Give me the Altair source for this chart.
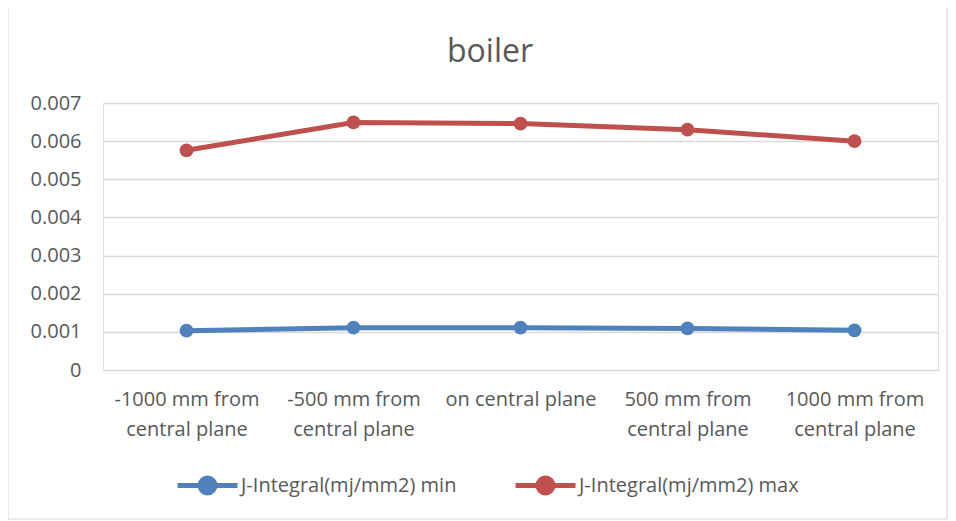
import altair as alt
import pandas as pd

categories = [
    "-1000 mm from central plane",
    "-500 mm from central plane",
    "on central plane",
    "500 mm from central plane",
    "1000 mm from central plane",
]
j_min = [0.00103, 0.00111, 0.00111, 0.00109, 0.00104]
j_max = [0.00576, 0.00649, 0.00646, 0.00630, 0.00600]
series_names = ["J-Integral(mj/mm2) min", "J-Integral(mj/mm2) max"]
y_ticks = [0, 0.001, 0.002, 0.003, 0.004, 0.005, 0.006, 0.007]
title_text = "boiler"

rows = []
for name, vals in zip(series_names, [j_min, j_max]):
    for c, v in zip(categories, vals):
        rows.append({"cat": c, "series": name, "value": v})
df = pd.DataFrame(rows)

FONT = "Open Sans"
TXT = "#595959"
colors = ["#4F81BD", "#C0504D"]
FS = 20

label_expr = (
    "indexof(datum.label,' from ')>0 ? "
    "[substring(datum.label,0,indexof(datum.label,' from ')+5), "
    "substring(datum.label,indexof(datum.label,' from ')+6)] : datum.label"
)

legend_path = "M-1,0L1,0M-0.25,0A0.25,0.25,0,1,0,0.25,0A0.25,0.25,0,1,0,-0.25,0Z"

base = alt.Chart(df).encode(
    x=alt.X(
        "cat:N",
        sort=categories,
        scale=alt.Scale(type="point", padding=0.5),
        axis=alt.Axis(
            title=None, labelAngle=0, labelExpr=label_expr, labelLineHeight=30,
            labelFontSize=FS, labelColor=TXT, labelFont=FONT, labelPadding=19,
            ticks=False, domain=False, grid=False, labelBaseline="top",
            labelLimit=300,
        ),
    ),
    y=alt.Y(
        "value:Q",
        scale=alt.Scale(domain=[0, 0.007], nice=False),
        axis=alt.Axis(
            title=None, values=y_ticks, format="~g", labelFontSize=FS,
            labelColor=TXT, labelFont=FONT, labelPadding=22, ticks=False,
            domain=False, gridColor="#D9D9D9", gridWidth=1.3,
        ),
    ),
    color=alt.Color(
        "series:N",
        sort=series_names,
        scale=alt.Scale(domain=series_names, range=colors),
        legend=alt.Legend(
            title=None, orient="none", direction="horizontal",
            legendX=72, legendY=350, symbolType=legend_path, symbolSize=3600,
            symbolStrokeWidth=5, labelFontSize=FS, labelColor=TXT, labelFont=FONT,
            labelOffset=1, columnPadding=48, symbolOpacity=1, labelLimit=400,
        ),
    ),
)

lines = base.mark_line(strokeWidth=5)
points = base.mark_point(filled=True, size=190, opacity=1)

border = alt.Chart(pd.DataFrame({"a": [0]})).mark_rect(
    fill=None, stroke="#D9D9D9", strokeWidth=1.2
).encode(
    x=alt.value(-95), x2=alt.value(844), y=alt.value(-97), y2=alt.value(416)
)

title = alt.Chart(pd.DataFrame({"t": [title_text]})).mark_text(
    font=FONT, fontSize=32, color=TXT, baseline="alphabetic", align="center"
).encode(text="t:N", x=alt.value(387), y=alt.value(-41))

chart = alt.layer(border, title, lines, points).properties(
    width=835,
    height=267,
    autosize=alt.AutoSizeParams(type="none"),
    padding={"left": 95, "top": 95, "right": 10, "bottom": 151},
).configure_view(stroke=None).configure(background="white")

chart.save("out.html", embed_options={"renderer": "svg", "actions": False})
